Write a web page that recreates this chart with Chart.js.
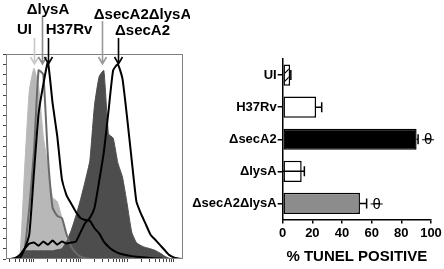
<!DOCTYPE html>
<html>
<head>
<meta charset="utf-8">
<script src="https://cdn.jsdelivr.net/npm/chart.js@4.4.0/dist/chart.umd.min.js"></script>
<style>
  html, body { margin: 0; padding: 0; background: #fff; }
  #wrap { position: relative; width: 444px; height: 269px; overflow: hidden; }
  #histo { position: absolute; left: 0; top: 0; }
  #bars { position: absolute; left: 190px; top: 0; }
</style>
</head>
<body>
<div id="wrap">
  <canvas id="histo" width="190" height="269" style="width:190px;height:269px"></canvas>
  <canvas id="bars" width="254" height="269" style="width:254px;height:269px"></canvas>
</div>
<script>
// fluorescence channel, in log decades
const channels = [0.4, 0.5, 0.6, 0.7, 0.8, 0.9, 1.0, 1.1, 1.2, 1.3, 1.4, 1.5, 1.6, 1.7, 1.8, 1.9, 2.0, 2.1, 2.2, 2.3,
  2.4, 2.5, 2.6, 2.7, 2.8, 2.9, 3.0, 3.1, 3.2, 3.3, 3.4, 3.5, 3.6, 3.7, 3.8, 3.9, 4.0, 4.1, 4.2];

// % of max events per channel
const histUI = [0, 0, 0.3, 2, 44, 82, 93, 84, 60, 45, 30, 28, 20, 9, 4.5, 2.5, 1.5, 1, 0.5, 0.3,
  0, 0, 0, 0, 0, 0, 0, 0, 0, 0, 0, 0, 0, 0, 0, 0, 0, 0, 0];
const histLysA = [0, 0, 0.3, 1, 5, 25, 52, 92, 90, 50, 25, 21, 20, 12, 6, 3, 1.2, 0.5, 0, 0,
  0, 0, 0, 0, 0, 0, 0, 0, 0, 0, 0, 0, 0, 0, 0, 0, 0, 0, 0];
const histH37Rv = [0, 0, 0, 0.5, 5, 12, 42, 71, 85, 96, 76, 60, 39, 31, 27, 23, 20, 19, 18.6, 15,
  12.5, 8.5, 6, 4.2, 3, 2.3, 1.8, 1.4, 1.1, 0.9, 0.7, 0.5, 0.3, 0.2, 0, 0, 0, 0, 0];
const histSecA2 = [0, 0, 0.5, 2, 5, 7.5, 8, 6.5, 8.5, 7, 9, 7, 8.5, 7.5, 8, 8.5, 13, 17.6, 20, 25,
  38, 52, 72, 92, 95, 88, 69, 48, 28, 22, 17, 12, 9.5, 7, 4.5, 2, 0.8, 0.3, 0];
const histSecA2LysA = [0, 0, 0.5, 2.5, 4, 4, 4, 4, 4, 4, 4, 4.5, 5, 8.5, 14, 21, 29, 38, 48, 75,
  89, 92, 61, 59, 47, 40, 27, 13, 8, 6.5, 5.6, 5, 4.2, 3, 1.5, 0.4, 0, 0, 0];

// TUNEL bar chart
const strains = ["UI", "H37Rv", "ΔsecA2", "ΔlysA", "ΔsecA2ΔlysA"];
const tunelMean = [5, 22.5, 90.3, 12.8, 52.1];
const tunelErr = [0.5, 3.8, 1.0, 1.8, 4.5];
const tunelSig = [false, false, true, false, true];
const tunelTicks = [0, 20, 40, 60, 80, 100];

const FONT = "'Liberation Sans', Arial, sans-serif";
Chart.defaults.font.family = FONT;

function toPoints(ys) {
  return channels.map((c, i) => ({ x: c, y: ys[i] }));
}

const histoMarks = {
  id: "histoMarks",
  afterDraw(chart, args, opts) {
    const { ctx, chartArea: a, scales: { x } } = chart;
    ctx.save();
    ctx.strokeStyle = "#808080";
    ctx.lineWidth = 1;
    ctx.strokeRect(a.left + 0.5, a.top + 0.5, a.right - a.left - 1, a.bottom - a.top - 1);

    ctx.font = "bold 15px " + FONT;
    ctx.textAlign = "center";
    ctx.textBaseline = "middle";
    opts.arrows.forEach(m => {
      const px = Math.round(x.getPixelForValue(m.at)) + 0.5;
      const tip = a.top + 10;
      ctx.strokeStyle = m.color;
      ctx.lineWidth = 1.6;
      ctx.beginPath();
      ctx.moveTo(px, m.from);
      ctx.lineTo(px, tip);
      ctx.moveTo(px - 4, tip - 7);
      ctx.lineTo(px, tip);
      ctx.lineTo(px + 4, tip - 7);
      ctx.stroke();
      ctx.fillStyle = "#000";
      ctx.fillText(m.label, m.tx, m.ty);
    });
    ctx.restore();
  }
};

new Chart(document.getElementById("histo"), {
  type: "line",
  data: {
    datasets: [
      { label: "ΔsecA2", data: toPoints(histSecA2), borderColor: "#000", borderWidth: 2, fill: false },
      { label: "H37Rv", data: toPoints(histH37Rv), borderColor: "#000", borderWidth: 2, fill: false },
      { label: "ΔlysA", data: toPoints(histLysA), borderColor: "#6a6a6a", borderWidth: 2, fill: false },
      { label: "ΔsecA2ΔlysA", data: toPoints(histSecA2LysA), borderColor: "#4d4d4d", borderWidth: 1,
        backgroundColor: "#4d4d4d", fill: "origin" },
      { label: "UI", data: toPoints(histUI), borderColor: "#b8b8b8", borderWidth: 1,
        backgroundColor: "#b8b8b8", fill: "origin" },
    ],
  },
  options: {
    responsive: false,
    animation: false,
    layout: { padding: { top: 54, right: 7, left: 0, bottom: 0 } },
    elements: { point: { radius: 0 }, line: { tension: 0.15 } },
    plugins: {
      legend: { display: false },
      tooltip: { enabled: false },
      histoMarks: {
        arrows: [
          { label: "UI", at: 1.0, color: "#c8c8c8", from: 38, tx: 24.5, ty: 30 },
          { label: "ΔlysA", at: 1.17, color: "#8c8c8c", from: 16, tx: 48, ty: 10 },
          { label: "H37Rv", at: 1.31, color: "#000", from: 38, tx: 69, ty: 30 },
          { label: "ΔsecA2ΔlysA", at: 2.47, color: "#9a9a9a", from: 21, tx: 142.5, ty: 15 },
          { label: "ΔsecA2", at: 2.8, color: "#000", from: 38, tx: 142.5, ty: 31 },
        ],
      },
    },
    scales: {
      x: {
        type: "linear",
        min: 0.4,
        max: 4.2,
        afterBuildTicks: s => {
          const t = [];
          for (let d = 0; d <= 4; d++) {
            for (let k = 1; k <= 9; k++) {
              const v = d + Math.log10(k);
              if (v >= 0.4 && v <= 4.2) t.push({ value: v });
            }
          }
          s.ticks = t;
        },
        ticks: { display: false },
        grid: { drawOnChartArea: false, tickLength: 3, color: "#444" },
        border: { display: false },
        afterFit: s => { s.height = 10; },
      },
      y: {
        min: 0,
        max: 100,
        ticks: { display: false, stepSize: 5 },
        grid: { drawOnChartArea: false, tickLength: 3, color: "#444" },
        border: { display: false },
        afterFit: s => { s.width = 6; },
      },
    },
  },
  plugins: [histoMarks],
});

function hatch() {
  const c = document.createElement("canvas");
  c.width = 8;
  c.height = 8;
  const g = c.getContext("2d");
  g.fillStyle = "#fff";
  g.fillRect(0, 0, 8, 8);
  g.strokeStyle = "#000";
  g.lineWidth = 1.2;
  g.beginPath();
  g.moveTo(0, 8); g.lineTo(8, 0);
  g.moveTo(-2, 2); g.lineTo(2, -2);
  g.moveTo(6, 10); g.lineTo(10, 6);
  g.stroke();
  return g.createPattern(c, "repeat");
}

const errorBars = {
  id: "errorBars",
  afterDatasetsDraw(chart, args, opts) {
    const { ctx, scales: { x } } = chart;
    const meta = chart.getDatasetMeta(0);
    ctx.save();
    ctx.strokeStyle = "#000";
    ctx.fillStyle = "#000";
    ctx.lineWidth = 1.5;
    meta.data.forEach((bar, i) => {
      const end = x.getPixelForValue(tunelMean[i] + tunelErr[i]);
      const start = opts.throughBar.includes(i) ? x.getPixelForValue(0) : bar.x;
      ctx.beginPath();
      ctx.moveTo(start, bar.y);
      ctx.lineTo(end, bar.y);
      ctx.moveTo(end, bar.y - 5);
      ctx.lineTo(end, bar.y + 5);
      ctx.stroke();
      if (tunelSig[i]) {
        const cx = end + 10;
        ctx.font = "15px " + FONT;
        ctx.textAlign = "center";
        ctx.textBaseline = "middle";
        ctx.fillText("θ", cx, bar.y + 1);
        ctx.lineWidth = 1;
        ctx.beginPath();
        ctx.moveTo(cx - 6, bar.y + 0.5);
        ctx.lineTo(cx + 6, bar.y + 0.5);
        ctx.stroke();
        ctx.lineWidth = 1.5;
      }
    });
    ctx.restore();
  }
};

new Chart(document.getElementById("bars"), {
  type: "bar",
  data: {
    labels: strains,
    datasets: [{
      data: tunelMean,
      backgroundColor: [hatch(), "#fff", "#000", "#fff", "#8c8c8c"],
      borderColor: "#000",
      borderWidth: 1.5,
      borderSkipped: false,
      barPercentage: 0.66,
      categoryPercentage: 1,
    }],
  },
  options: {
    indexAxis: "y",
    responsive: false,
    animation: false,
    layout: { padding: { top: 59, right: 13, left: 0, bottom: 0 } },
    plugins: {
      legend: { display: false },
      tooltip: { enabled: false },
      errorBars: { throughBar: [3] },
    },
    scales: {
      x: {
        min: 0,
        max: 100,
        afterBuildTicks: s => { s.ticks = tunelTicks.map(v => ({ value: v })); },
        ticks: { font: { size: 13, weight: "bold" }, color: "#000", padding: 2, maxRotation: 0 },
        grid: { drawOnChartArea: false, tickLength: 4, color: "#000", lineWidth: 1.5 },
        border: { color: "#000", width: 1.5 },
        title: {
          display: true,
          text: "% TUNEL POSITIVE",
          font: { size: 15, weight: "bold" },
          color: "#000",
          padding: { top: 0, bottom: 3 },
        },
        afterFit: s => { s.height = 49.5; },
      },
      y: {
        ticks: { font: { size: 13, weight: "bold" }, color: "#000", padding: 1 },
        grid: { drawOnChartArea: false, tickLength: 5, color: "#000", lineWidth: 1.5, offset: false },
        border: { color: "#000", width: 1.5 },
        afterFit: s => { s.width = 92.7; },
      },
    },
  },
  plugins: [errorBars],
});
</script>
</body>
</html>
